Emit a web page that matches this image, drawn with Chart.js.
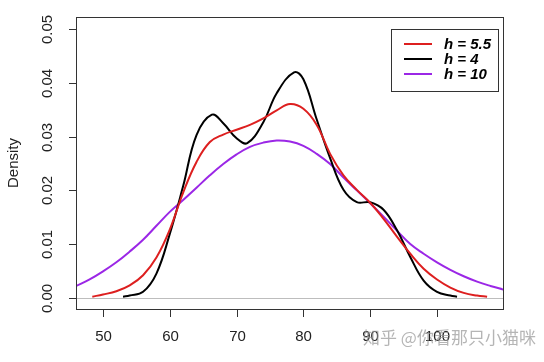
<!DOCTYPE html>
<html>
<head>
<meta charset="utf-8">
<script src="https://cdn.jsdelivr.net/npm/chart.js@4"></script>
<style>
  body { margin: 0; background: #fff; }
  canvas { display: block; }
</style>
</head>
<body>
<canvas id="chart" width="544" height="362"></canvas>
<script>
// density curves
const h55X = [48.4, 50, 52, 54, 56, 58, 60, 62, 64, 66, 68, 70, 72, 74, 76, 78, 80, 82, 84, 86, 88, 90, 92, 94, 96, 98, 100, 102, 104, 106, 107.5];
const h55Y = [0.0002, 0.0006, 0.0012, 0.0023, 0.0042, 0.0075, 0.0127, 0.0196, 0.0253, 0.0290, 0.0304, 0.0313, 0.0322, 0.0334, 0.0349, 0.0361, 0.0352, 0.0322, 0.0268, 0.0228, 0.0201, 0.0177, 0.0147, 0.0114, 0.0082, 0.0054, 0.0034, 0.0019, 0.0009, 0.0004, 0.0002];

const h4X = [53, 54, 56, 58, 60, 62, 64, 66.3, 68, 70, 71.6, 74, 76, 78.6, 80, 82, 84, 86, 88, 90, 92, 94, 96, 98, 100, 102, 103];
const h4Y = [0.0002, 0.0004, 0.0011, 0.0045, 0.0119, 0.0208, 0.0303, 0.0341, 0.0325, 0.0297, 0.0288, 0.0327, 0.0381, 0.0420, 0.0407, 0.0332, 0.0260, 0.0201, 0.0178, 0.0178, 0.0164, 0.0126, 0.0076, 0.0032, 0.0011, 0.0004, 0.0002];

const h10X = [46, 48, 50, 52, 54, 56, 58, 60, 62, 64, 66, 68, 70, 72, 74, 76, 78, 80, 82, 84, 86, 88, 90, 92, 94, 96, 98, 100, 102, 104, 106, 108, 110];
const h10Y = [0.0022, 0.0034, 0.0049, 0.0066, 0.0086, 0.0108, 0.0134, 0.0160, 0.0182, 0.0205, 0.0228, 0.0249, 0.0267, 0.0281, 0.0289, 0.0293, 0.0291, 0.0283, 0.0268, 0.0249, 0.0224, 0.0200, 0.0176, 0.0151, 0.0125, 0.0100, 0.0082, 0.0066, 0.0052, 0.0040, 0.0030, 0.0022, 0.0015];

const xTicks = [50, 60, 70, 80, 90, 100];
const yTicks = [0, 0.01, 0.02, 0.03, 0.04, 0.05];
const seriesNames = ["h = 5.5", "h = 4", "h = 10"];
const seriesColors = ["#dd1f1f", "#000000", "#9b27e6"];

const FONT = '"Liberation Sans", Arial, sans-serif';

function pts(xs, ys) {
  return xs.map((x, i) => ({ x: x, y: ys[i] }));
}

// R-style axes, box, legend
const rStyle = {
  id: "rStyle",
  beforeDatasetsDraw(chart) {
    const { ctx, chartArea: a, scales } = chart;
    const y0 = Math.round(scales.y.getPixelForValue(0)) + 0.5;
    ctx.save();
    ctx.strokeStyle = "#bdbdbd";
    ctx.lineWidth = 1;
    ctx.beginPath();
    ctx.moveTo(a.left, y0);
    ctx.lineTo(a.right, y0);
    ctx.stroke();
    ctx.restore();
  },
  afterDraw(chart) {
    const { ctx, chartArea: a, scales } = chart;
    ctx.save();
    ctx.strokeStyle = "#333";
    ctx.lineWidth = 1;
    ctx.strokeRect(a.left + 0.5, a.top + 0.5, a.right - a.left, a.bottom - a.top);

    ctx.fillStyle = "#222";
    ctx.font = "15px " + FONT;

    // x axis
    ctx.textAlign = "center";
    ctx.textBaseline = "middle";
    xTicks.forEach(v => {
      const px = Math.round(scales.x.getPixelForValue(v)) + 0.5;
      ctx.beginPath();
      ctx.moveTo(px, a.bottom);
      ctx.lineTo(px, a.bottom + 8);
      ctx.stroke();
      ctx.fillText(String(v), px, 337);
    });

    // y axis
    yTicks.forEach(v => {
      const py = Math.round(scales.y.getPixelForValue(v)) + 0.5;
      ctx.beginPath();
      ctx.moveTo(a.left, py);
      ctx.lineTo(a.left - 7, py);
      ctx.stroke();
      ctx.save();
      ctx.translate(48, py);
      ctx.rotate(-Math.PI / 2);
      ctx.fillText(v.toFixed(2), 0, 0);
      ctx.restore();
    });

    ctx.save();
    ctx.translate(14, (a.top + a.bottom) / 2);
    ctx.rotate(-Math.PI / 2);
    ctx.fillText("Density", 0, 0);
    ctx.restore();

    // legend box
    ctx.strokeRect(391.5, 29.5, 107, 62);
    ctx.font = "italic bold 15px " + FONT;
    ctx.textAlign = "left";
    seriesNames.forEach((name, i) => {
      const ly = 44 + i * 15;
      ctx.strokeStyle = seriesColors[i];
      ctx.lineWidth = 2;
      ctx.beginPath();
      ctx.moveTo(404, ly);
      ctx.lineTo(432, ly);
      ctx.stroke();
      ctx.fillStyle = "#000";
      ctx.fillText(name, 444, ly + 1);
    });

    // watermark
    ctx.font = '17px "Noto Sans CJK SC", sans-serif';
    ctx.fillStyle = "rgba(150,150,150,0.7)";
    ctx.textAlign = "left";
    ctx.fillText("知乎 @你看那只小猫咪", 363, 338);
    ctx.restore();
  }
};

const ctx = document.getElementById("chart");

new Chart(ctx, {
  type: "line",
  data: {
    datasets: [
      { label: seriesNames[0], data: pts(h55X, h55Y), borderColor: seriesColors[0] },
      { label: seriesNames[1], data: pts(h4X, h4Y), borderColor: seriesColors[1] },
      { label: seriesNames[2], data: pts(h10X, h10Y), borderColor: seriesColors[2] }
    ]
  },
  options: {
    responsive: false,
    animation: false,
    devicePixelRatio: 1,
    layout: { padding: { top: 17, right: 41, left: 0, bottom: 0 } },
    elements: {
      point: { radius: 0 },
      line: { borderWidth: 2, tension: 0.4, fill: false }
    },
    plugins: {
      legend: { display: false },
      tooltip: { enabled: false }
    },
    scales: {
      x: {
        type: "linear",
        min: 45.96,
        max: 109.88,
        grid: { display: false },
        border: { display: false },
        ticks: { display: false },
        afterFit: s => { s.height = 53; }
      },
      y: {
        min: -0.0021,
        max: 0.0523,
        grid: { display: false },
        border: { display: false },
        ticks: { display: false },
        afterFit: s => { s.width = 76; }
      }
    }
  },
  plugins: [rStyle]
});
</script>
</body>
</html>
